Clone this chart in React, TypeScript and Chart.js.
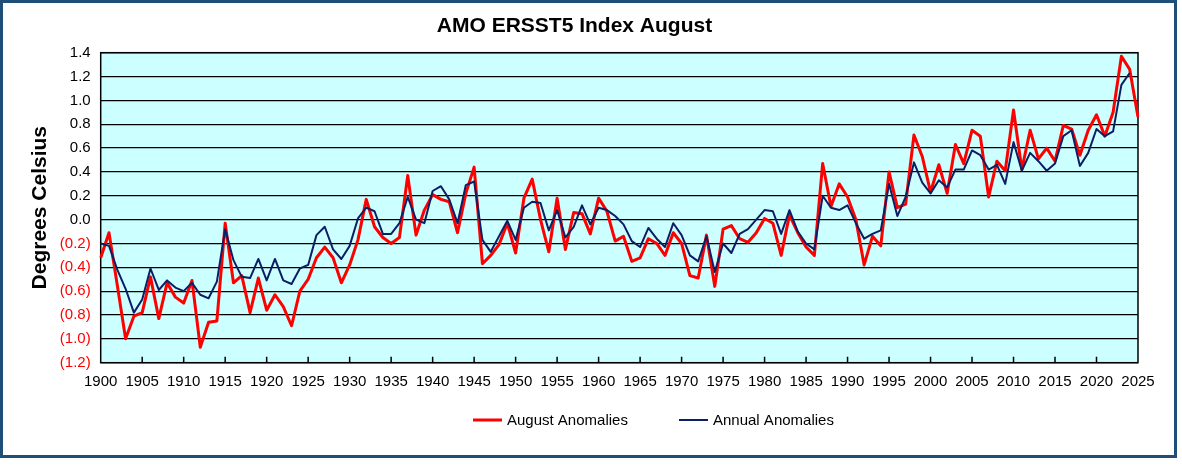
import React, { useEffect, useRef } from 'react';
import { Chart, registerables } from 'chart.js';

Chart.register(...registerables);

const FIRST_YEAR = 1900;
const LAST_YEAR = 2025;
const years: number[] = Array.from({ length: LAST_YEAR - FIRST_YEAR + 1 }, (_, i) => FIRST_YEAR + i);

const augustAnomalies: number[] = [
  -0.32, -0.11, -0.55, -1.00, -0.81, -0.78, -0.48, -0.83, -0.53, -0.65,
  -0.70, -0.51, -1.07, -0.86, -0.85, -0.03, -0.53, -0.47, -0.78, -0.49,
  -0.76, -0.63, -0.73, -0.89, -0.60, -0.50, -0.32, -0.23, -0.32, -0.53,
  -0.38, -0.17, 0.17, -0.06, -0.15, -0.20, -0.15, 0.37, -0.13, 0.08,
  0.21, 0.17, 0.15, -0.11, 0.22, 0.44, -0.37, -0.30, -0.21, -0.03,
  -0.28, 0.18, 0.34, 0.00, -0.27, 0.18, -0.25, 0.06, 0.05, -0.12,
  0.18, 0.07, -0.18, -0.14, -0.35, -0.32, -0.16, -0.20, -0.30, -0.11,
  -0.20, -0.47, -0.49, -0.13, -0.56, -0.08, -0.05, -0.16, -0.19, -0.11,
  0.01, -0.03, -0.30, 0.04, -0.11, -0.23, -0.30, 0.47, 0.11, 0.30,
  0.19, 0.00, -0.38, -0.14, -0.22, 0.40, 0.10, 0.13, 0.71, 0.53,
  0.23, 0.46, 0.22, 0.63, 0.47, 0.75, 0.70, 0.19, 0.49, 0.41,
  0.92, 0.42, 0.75, 0.51, 0.60, 0.49, 0.79, 0.76, 0.54, 0.75,
  0.88, 0.70, 0.90, 1.37, 1.26, 0.86,
];

const annualAnomalies: (number | null)[] = [
  -0.20, -0.22, -0.42, -0.58, -0.78, -0.67, -0.41, -0.59, -0.51, -0.57,
  -0.60, -0.53, -0.63, -0.66, -0.52, -0.08, -0.34, -0.48, -0.49, -0.33,
  -0.51, -0.33, -0.51, -0.54, -0.41, -0.38, -0.13, -0.06, -0.25, -0.33,
  -0.22, 0.01, 0.10, 0.07, -0.12, -0.12, -0.03, 0.19, 0.00, -0.03,
  0.24, 0.28, 0.17, -0.03, 0.29, 0.32, -0.17, -0.27, -0.14, -0.01,
  -0.17, 0.10, 0.15, 0.14, -0.09, 0.08, -0.15, -0.06, 0.12, -0.04,
  0.10, 0.08, 0.03, -0.04, -0.18, -0.23, -0.07, -0.16, -0.23, -0.03,
  -0.13, -0.30, -0.35, -0.14, -0.44, -0.20, -0.28, -0.12, -0.08, 0.00,
  0.08, 0.07, -0.12, 0.08, -0.10, -0.20, -0.25, 0.20, 0.10, 0.08,
  0.12, -0.03, -0.16, -0.12, -0.09, 0.30, 0.03, 0.19, 0.48, 0.31,
  0.22, 0.33, 0.27, 0.42, 0.42, 0.58, 0.54, 0.42, 0.46, 0.30,
  0.65, 0.41, 0.56, 0.49, 0.41, 0.47, 0.70, 0.75, 0.45, 0.56,
  0.76, 0.70, 0.74, 1.13, 1.23, null,
];

const Y_MIN = -1.2;
const Y_MAX = 1.4;
const Y_STEP = 0.2;
const X_LABEL_EVERY = 5;

const TITLE = 'AMO ERSST5 Index August';
const Y_TITLE = 'Degrees Celsius';
const SERIES_LABELS = ['August Anomalies', 'Annual Anomalies'];

const FONT = "'Liberation Sans', Arial, Helvetica, sans-serif";
const RED = '#FF0000';
const NAVY = '#0C1F64';
const PLOT_BG = '#CCFFFF';

function fmtTick(v: number): string {
  const r = Math.round(v * 10) / 10;
  if (Math.abs(r) < 1e-9) return '0.0';
  if (r < 0) return '(' + Math.abs(r).toFixed(1) + ')';
  return r.toFixed(1);
}

export default function App() {
  const ref = useRef<HTMLCanvasElement>(null);

  useEffect(() => {
    document.body.style.margin = '0';
    const canvas = ref.current;
    if (!canvas) return;

    const plotDecor = {
      id: 'plotDecor',
      beforeDraw(chart: any) {
        const { ctx, chartArea: a } = chart;
        ctx.save();
        ctx.fillStyle = PLOT_BG;
        ctx.fillRect(a.left, a.top, a.right - a.left, a.bottom - a.top);
        ctx.restore();
      },
      beforeDatasetsDraw(chart: any) {
        const { ctx, chartArea: a } = chart;
        const xs = chart.scales.x;
        ctx.save();
        ctx.strokeStyle = '#000';
        ctx.lineWidth = 1.5;
        ctx.strokeRect(a.left, a.top, a.right - a.left, a.bottom - a.top);
        ctx.lineWidth = 1.5;
        ctx.beginPath();
        years.forEach((yr, i) => {
          if (yr % X_LABEL_EVERY === 0 && i > 0 && i < years.length - 1) {
            const px = xs.getPixelForValue(i);
            ctx.moveTo(px, a.bottom);
            ctx.lineTo(px, a.bottom - 6);
          }
        });
        ctx.stroke();
        ctx.restore();
      },
    };

    const customLegend = {
      id: 'customLegend',
      afterDraw(chart: any) {
        const { ctx } = chart;
        const ds = chart.data.datasets;
        const items = [
          { x: 470, ds: ds[0] },
          { x: 676, ds: ds[1] },
        ];
        const y = 417;
        ctx.save();
        ctx.font = `15px ${FONT}`;
        ctx.textBaseline = 'middle';
        ctx.textAlign = 'left';
        items.forEach((it) => {
          ctx.strokeStyle = it.ds.borderColor;
          ctx.lineWidth = it.ds.borderWidth;
          ctx.beginPath();
          ctx.moveTo(it.x, y);
          ctx.lineTo(it.x + 29, y);
          ctx.stroke();
          ctx.fillStyle = '#000';
          ctx.fillText(it.ds.label, it.x + 34, y + 1);
        });
        ctx.restore();
      },
    };

    const chart = new Chart(canvas, {
      type: 'line',
      data: {
        labels: years.map(String),
        datasets: [
          {
            label: SERIES_LABELS[0],
            data: augustAnomalies,
            borderColor: RED,
            backgroundColor: RED,
            borderWidth: 3,
            pointRadius: 0,
            tension: 0,
            borderJoinStyle: 'round',
            order: 1,
          },
          {
            label: SERIES_LABELS[1],
            data: annualAnomalies,
            borderColor: NAVY,
            backgroundColor: NAVY,
            borderWidth: 2,
            pointRadius: 0,
            tension: 0,
            borderJoinStyle: 'round',
            order: 0,
          },
        ],
      },
      options: {
        animation: false,
        responsive: false,
        maintainAspectRatio: false,
        events: [],
        layout: { padding: { left: 8, right: 36, top: 0, bottom: 52.3 } },
        plugins: {
          legend: { display: false },
          tooltip: { enabled: false },
          title: {
            display: true,
            text: TITLE,
            color: '#000',
            font: { family: FONT, size: 21, weight: 'bold', lineHeight: 1.2 },
            padding: { top: 10.4, bottom: 14.1 },
          },
        },
        scales: {
          x: {
            type: 'category',
            offset: false,
            grid: { display: false, drawTicks: false },
            border: { display: false },
            ticks: {
              autoSkip: false,
              maxRotation: 0,
              minRotation: 0,
              padding: 10,
              color: '#000',
              font: { family: FONT, size: 15 },
              callback: (_v: any, idx: number) => (years[idx] % X_LABEL_EVERY === 0 ? String(years[idx]) : ''),
            },
            afterFit: (s: any) => {
              s.height = 40;
            },
          },
          y: {
            type: 'linear',
            min: Y_MIN,
            max: Y_MAX,
            grid: { color: '#000', lineWidth: 1.3, drawTicks: false },
            border: { display: false },
            ticks: {
              stepSize: Y_STEP,
              padding: 10,
              font: { family: FONT, size: 15 },
              color: (c: any) => (c.tick && c.tick.value < -1e-9 ? RED : '#000'),
              callback: (v: any) => fmtTick(Number(v)),
            },
            title: {
              display: true,
              text: Y_TITLE,
              color: '#000',
              font: { family: FONT, size: 21, weight: 'bold', lineHeight: 1.2 },
              padding: { top: 16.4, bottom: 0 },
            },
            afterFit: (s: any) => {
              s.width = 89.7;
            },
          },
        },
      },
      plugins: [plotDecor, customLegend],
    } as any);

    return () => chart.destroy();
  }, []);

  return (
    <div
      style={{
        position: 'absolute',
        left: 0,
        top: 0,
        width: 1177,
        height: 458,
        border: '3px solid #1F4E79',
        boxSizing: 'border-box',
        background: '#fff',
      }}
    >
      <canvas ref={ref} width={1171} height={452} style={{ display: 'block', width: 1171, height: 452 }} />
    </div>
  );
}
